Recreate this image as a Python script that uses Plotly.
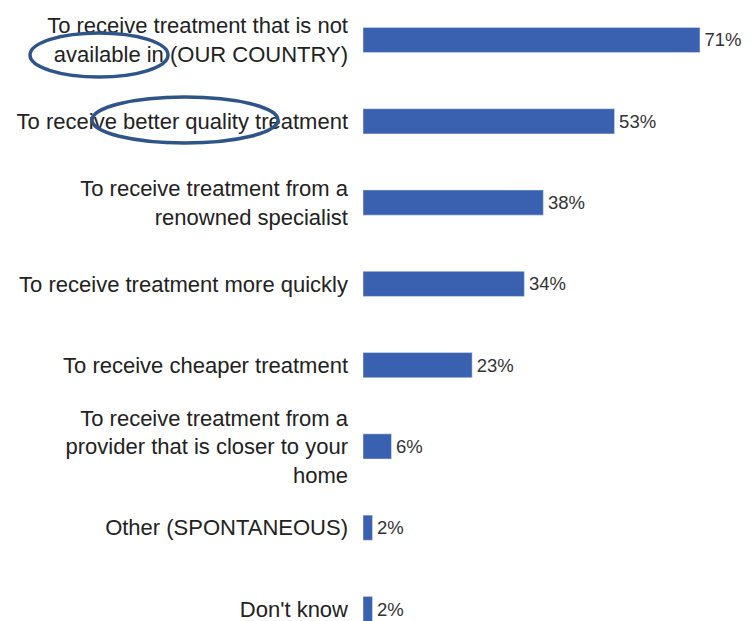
import plotly.graph_objects as go

categories = [
    "To receive treatment that is not<br>available in (OUR COUNTRY)",
    "To receive better quality treatment",
    "To receive treatment from a<br>renowned specialist",
    "To receive treatment more quickly",
    "To receive cheaper treatment",
    "To receive treatment from a<br>provider that is closer to your<br>home",
    "Other (SPONTANEOUS)",
    "Don't know",
]
values = [71, 53, 38, 34, 23, 6, 2, 2]
value_labels = [f"\u200a{v}%" for v in values]

# page offset of 8px (body margin) is compensated
OFF = 8
W, H = 751 - OFF, 621 - OFF
L = 363 - OFF
PLOT_W = W - L
SLOT = 81.3
TOP_C = 40 - OFF
BOT_C = 609 - OFF

fig = go.Figure(go.Bar(
    x=values,
    y=list(range(len(categories))),
    orientation="h",
    marker=dict(color="#3a61b0"),
    width=0.31,
    text=value_labels,
    textposition="outside",
    textfont=dict(family="Liberation Sans, Arial", size=18.5, color="#333333"),
    cliponaxis=False,
))

def px_to_paper(x, y):
    return (x - OFF - L) / PLOT_W, 1 - (y - OFF) / H

ellipses = [(30, 33, 168, 77), (92, 97, 278, 143)]
shapes = []
for x0, y0, x1, y1 in ellipses:
    a, b = px_to_paper(x0, y1)
    c, d = px_to_paper(x1, y0)
    shapes.append(dict(type="circle", xref="paper", yref="paper",
                       x0=a, y0=b, x1=c, y1=d,
                       line=dict(color="#2f5588", width=3.5)))

fig.update_layout(
    width=W, height=H,
    margin=dict(l=L, r=0, t=0, b=0, autoexpand=False),
    paper_bgcolor="white", plot_bgcolor="white",
    showlegend=False,
    xaxis=dict(range=[0, PLOT_W / 4.746], visible=False),
    yaxis=dict(
        range=[7 + (H - BOT_C) / SLOT, -TOP_C / SLOT],
        tickmode="array",
        tickvals=list(range(len(categories))),
        ticktext=categories,
        showgrid=False, zeroline=False, showline=False,
        ticks="", ticklabelstandoff=14,
        ticklabeloverflow="allow",
        tickfont=dict(family="Liberation Sans, Arial", size=22, color="#222222"),
        automargin=False,
    ),
    shapes=shapes,
)

fig.write_html("out.html")
